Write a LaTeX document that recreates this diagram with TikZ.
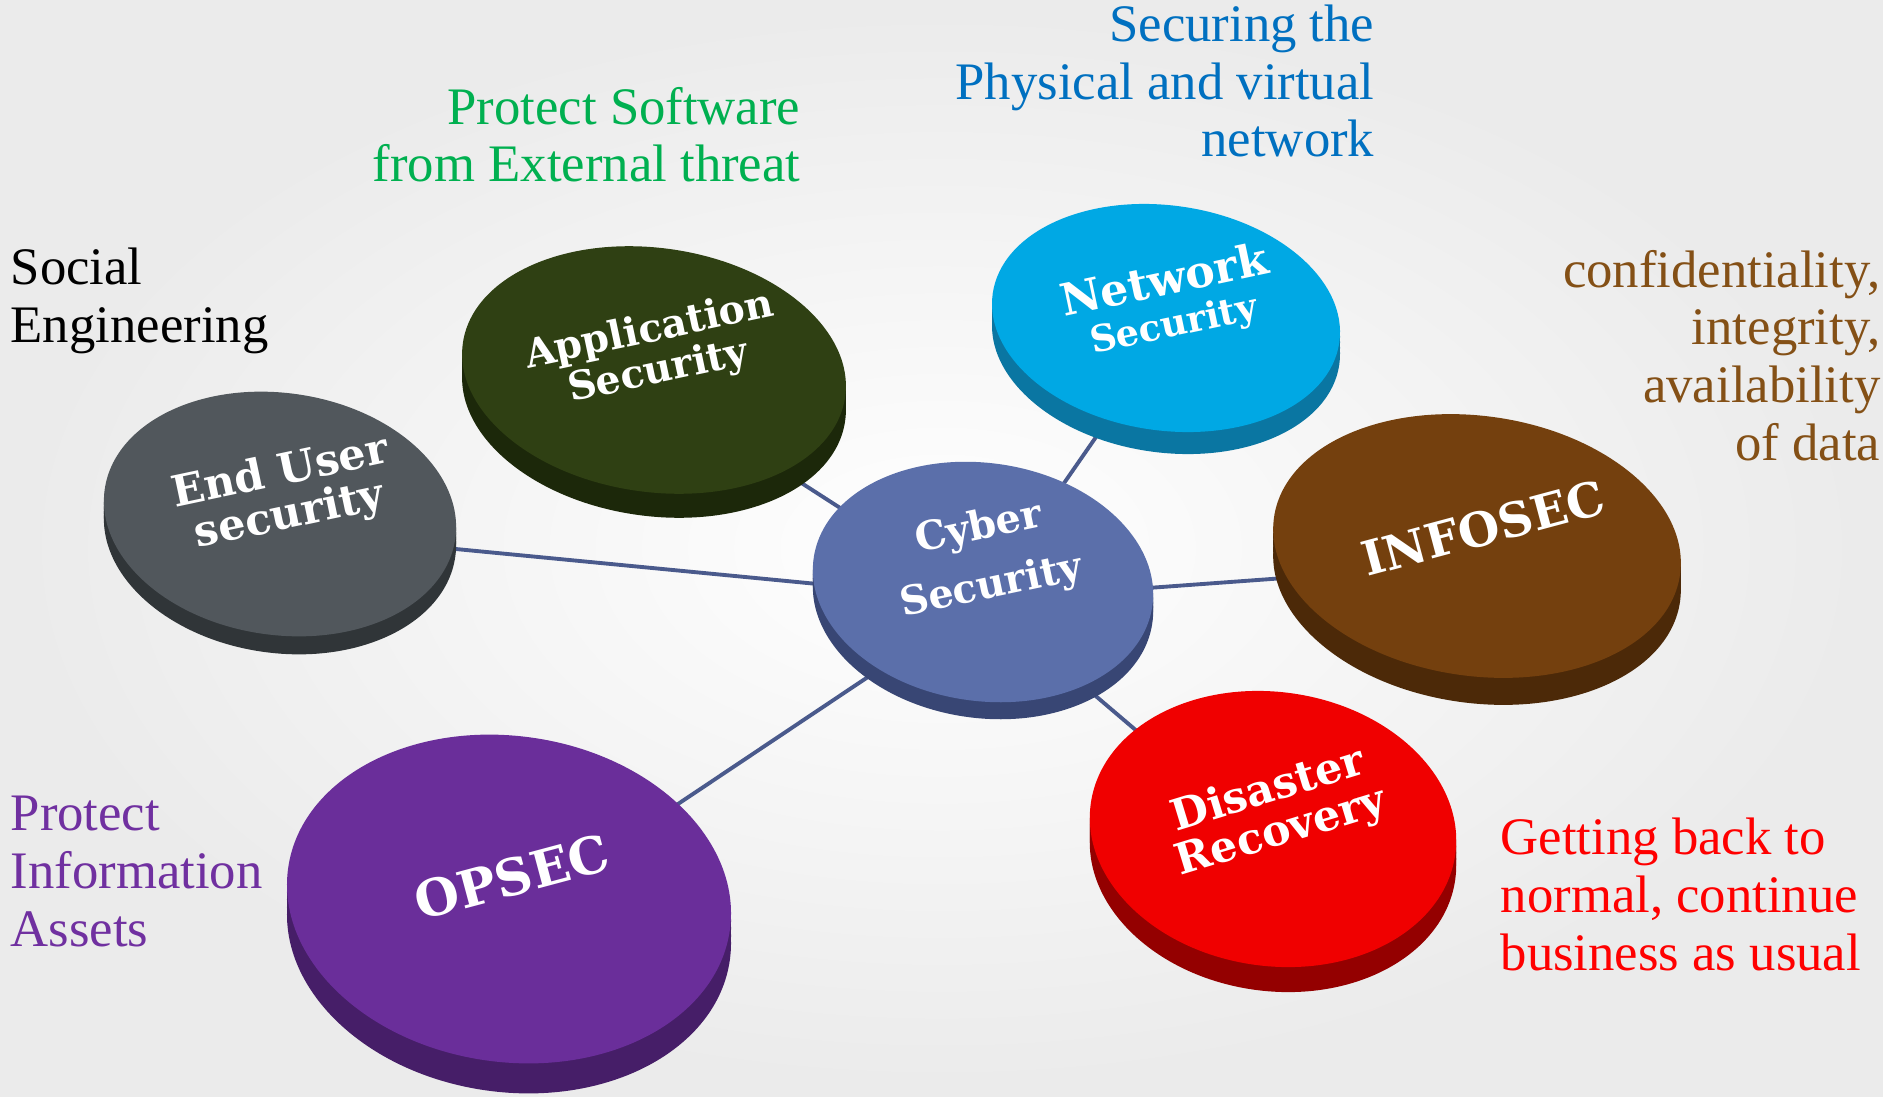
\documentclass[tikz,border=0pt]{standalone}
\usepackage{fontspec}
\setmainfont{Liberation Serif}
\newfontfamily\diskfont{DejaVu Serif}
\usetikzlibrary{shapes.geometric}
% disk tops and walls
\definecolor{cyberblue}{RGB}{91,111,170}   \definecolor{cyberside}{RGB}{56,70,116}
\definecolor{endugray}{RGB}{81,87,92}      \definecolor{enduside}{RGB}{48,53,56}
\definecolor{applgreen}{RGB}{47,64,19}     \definecolor{applside}{RGB}{28,40,10}
\definecolor{netwblue}{RGB}{0,168,228}     \definecolor{netwside}{RGB}{10,118,162}
\definecolor{infobrown}{RGB}{116,64,14}    \definecolor{infoside}{RGB}{76,41,8}
\definecolor{disared}{RGB}{240,0,0}        \definecolor{disaside}{RGB}{148,0,0}
\definecolor{opsecpurple}{RGB}{106,46,154} \definecolor{opsecside}{RGB}{70,30,104}
\definecolor{linkblue}{RGB}{74,90,140}
% note colours
\definecolor{notegreen}{RGB}{0,176,80}
\definecolor{noteblue}{RGB}{0,112,192}
\definecolor{notebrown}{RGB}{132,80,22}
\definecolor{notepurple}{RGB}{112,48,160}
\definecolor{notered}{RGB}{255,0,0}
\pgfdeclarelayer{bg}
\pgfdeclarelayer{links}
\pgfsetlayers{bg,links,main}
\begin{document}
\begin{tikzpicture}[
  disk/.style={ellipse, inner sep=0pt, rotate=-8},
  disktext/.style={text=white, font=\diskfont\bfseries\fontsize{11.2}{12}\selectfont, align=center, rotate=12},
  note/.style={font=\fontsize{15}{16.4}\selectfont, inner sep=0pt},
  link/.style={draw=linkblue, line width=1.1pt}]
 \useasboundingbox (0,0) rectangle (18.83,10.96);
 \begin{pgfonlayer}{bg}
  \shade[inner color=white, outer color=gray!16] (0,0) rectangle (18.83,10.96);
 \end{pgfonlayer}
 %
 % side walls of the disks
 \foreach \x/\y/\a/\b/\d/\c in {9.83/5.14/1.71/1.19/0.17/cyberside,
     2.80/5.82/1.77/1.21/0.18/enduside, 6.54/7.26/1.93/1.22/0.24/applside,
     11.66/7.78/1.75/1.125/0.22/netwside, 14.77/5.50/2.05/1.30/0.27/infoside,
     12.73/2.67/1.84/1.37/0.25/disaside, 5.09/1.97/2.23/1.63/0.30/opsecside}
   \foreach \t in {0.25,0.5,0.75,1}
     \fill[\c, rotate around={-8:(\x,\y-\t*\d)}] (\x,\y-\t*\d) ellipse (\a cm and \b cm);
 %
 % disk tops
 \node[disk, fill=cyberblue, minimum width=3.42cm, minimum height=2.38cm] (cyber) at (9.83,5.14) {};
 \node[disk, fill=endugray, minimum width=3.54cm, minimum height=2.42cm] (endu) at (2.80,5.82) {};
 \node[disk, fill=applgreen, minimum width=3.86cm, minimum height=2.44cm] (appl) at (6.54,7.26) {};
 \node[disk, fill=netwblue, minimum width=3.50cm, minimum height=2.25cm] (netw) at (11.66,7.78) {};
 \node[disk, fill=infobrown, minimum width=4.10cm, minimum height=2.60cm] (info) at (14.77,5.50) {};
 \node[disk, fill=disared, minimum width=3.68cm, minimum height=2.74cm] (disa) at (12.73,2.67) {};
 \node[disk, fill=opsecpurple, minimum width=4.46cm, minimum height=3.26cm] (opsec) at (5.09,1.97) {};
 %
 % connectors, under the disks
 \begin{pgfonlayer}{links}
  \foreach \n in {endu,appl,netw,info,disa,opsec}
    \draw[link] ([yshift=-0.18cm]cyber.center) -- ([yshift=-0.18cm]\n.center);
 \end{pgfonlayer}
 %
 % disk labels
 \node[disktext, font=\diskfont\bfseries\fontsize{11.3}{17}\selectfont] (cyber-t) at (9.85,5.38) {Cyber\\Security};
 \node[disktext, font=\diskfont\bfseries\fontsize{12.2}{12.5}\selectfont] (endu-t) at (2.85,6.01) {End User\\security};
 \node[disktext] (appl-t) at (6.54,7.44) {Application\\Security};
 \node[disktext] (netw-t) at (11.69,7.93) {{\fontsize{12.6}{12.5}\selectfont Network}\\{\fontsize{10.4}{12.5}\selectfont Security}};
 \node[disktext, rotate=3, font=\diskfont\bfseries\fontsize{13.5}{14}\selectfont] (info-t) at (14.83,5.68) {INFOSEC};
 \node[disktext, rotate=5, font=\diskfont\bfseries\fontsize{12.2}{12.5}\selectfont] (disa-t) at (12.75,2.84) {Disaster\\Recovery};
 \node[disktext, rotate=3, font=\diskfont\bfseries\fontsize{14.5}{15}\selectfont] (opsec-t) at (5.12,2.19) {OPSEC};
 %
 % notes round the disks (anchored on the last line)
 \node[note, align=left, anchor=base west] (endu-n) at (0.10,7.54) {Social\\Engineering};
 \node[note, text=notegreen, align=right, anchor=base east] (appl-n) at (8.01,9.14) {Protect Software\\from External threat};
 \node[note, text=noteblue, align=right, anchor=base east] (netw-n) at (13.75,9.39) {Securing the\\Physical and virtual\\network};
 \node[note, text=notebrown, align=right, anchor=base east] (info-n) at (18.81,6.36) {confidentiality,\\integrity,\\availability\\of data};
 \node[note, text=notepurple, align=left, anchor=base west] (opsec-n) at (0.10,1.50) {Protect\\Information\\Assets};
 \node[note, text=notered, align=left, anchor=base west] (disa-n) at (15.00,1.26) {Getting back to\\normal, continue\\business as usual};
\end{tikzpicture}
\end{document}
